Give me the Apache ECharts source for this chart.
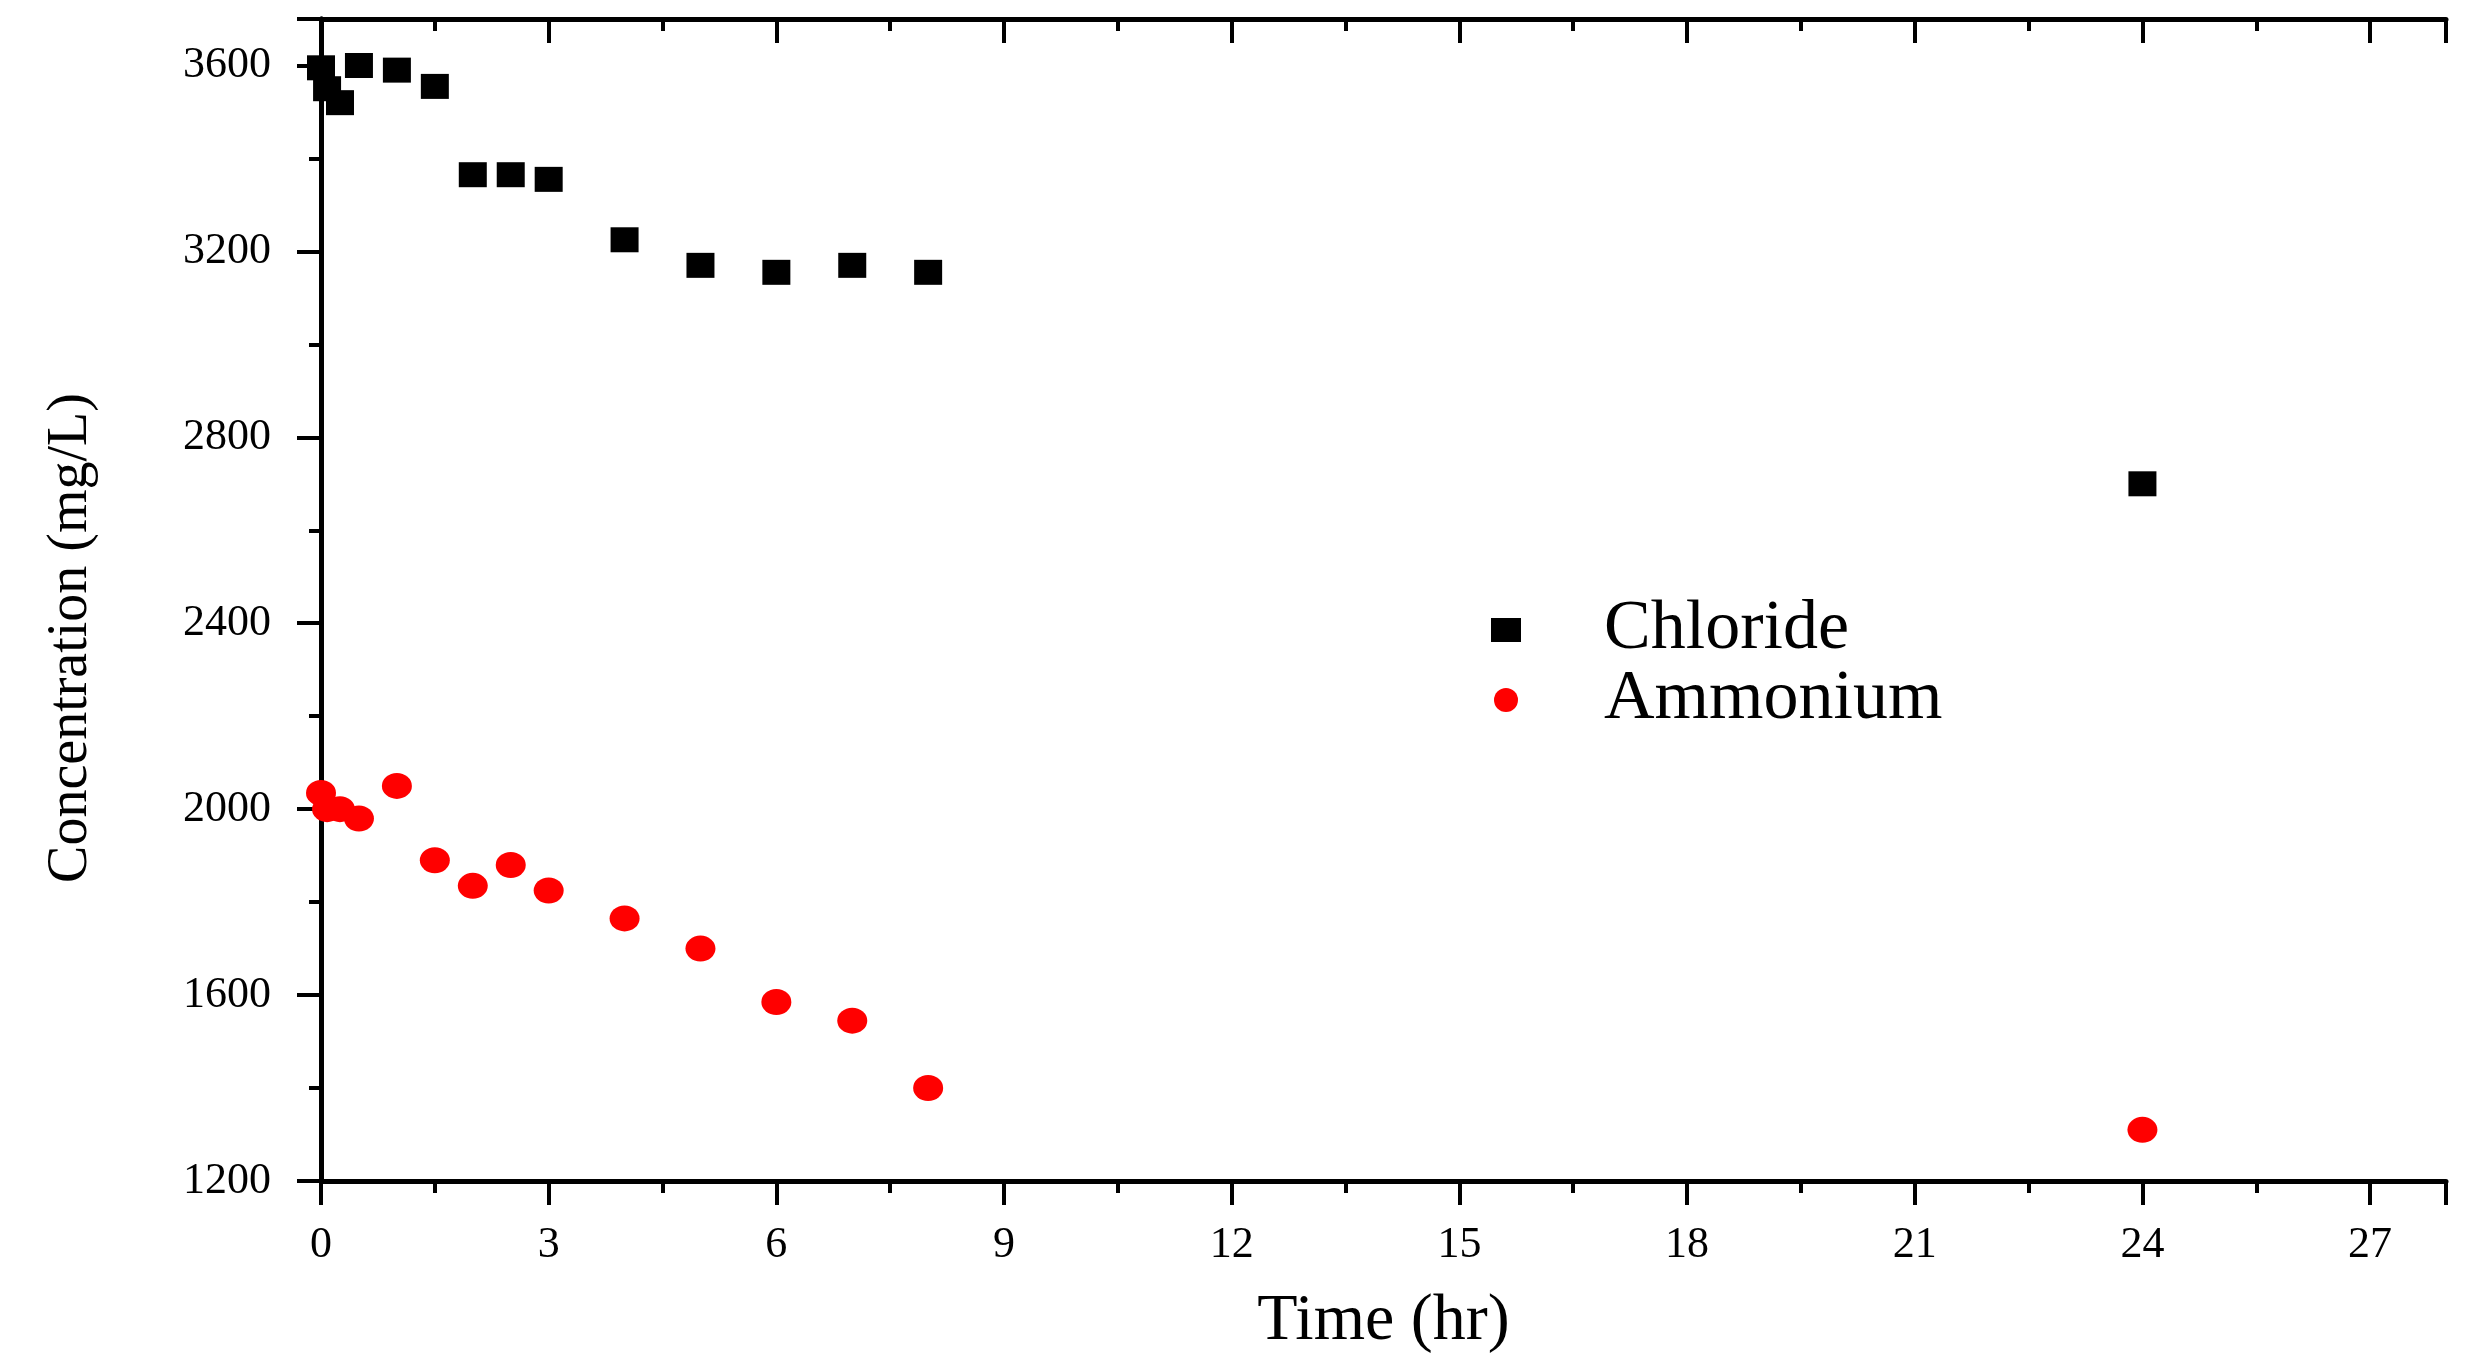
<!DOCTYPE html>
<html>
<head>
<meta charset="utf-8">
<style>
  html, body { margin: 0; padding: 0; background: #fff; }
  #chart { width: 2470px; height: 1363px; }
</style>
<script src="https://cdn.jsdelivr.net/npm/echarts@6/dist/echarts.min.js"></script>
</head>
<body>
<div id="chart"></div>
<script>
// time (hr) and concentration (mg/L)
var chlorideTime = [0, 0.08, 0.25, 0.5, 1, 1.5, 2, 2.5, 3, 4, 5, 6, 7, 8, 24]
var chlorideConc = [3595, 3550, 3520, 3600, 3590, 3555, 3365, 3365, 3355, 3225, 3170, 3155, 3170, 3155, 2700]
var ammoniumTime = [0, 0.08, 0.25, 0.5, 1, 1.5, 2, 2.5, 3, 4, 5, 6, 7, 8, 24]
var ammoniumConc = [2035, 2000, 2000, 1980, 2050, 1890, 1835, 1880, 1825, 1765, 1700, 1585, 1545, 1400, 1310]

var font = "'Liberation Serif', 'Times New Roman', serif"

function pairs(xs, ys) {
  return xs.map(function (x, i) { return [x, ys[i]] })
}

var chart = echarts.init(document.getElementById('chart'))

// shared axis styling
var lineStyle = { color: '#000', width: 5 }
var tick = { show: true, length: 24, lineStyle: { color: '#000', width: 4 } }
var minor = { show: true, splitNumber: 2, length: 12, lineStyle: { color: '#000', width: 4 } }

chart.setOption({
  animation: false,
  backgroundColor: '#fff',
  grid: {
    left: 321,
    right: 24,
    top: 19,
    bottom: 182
  },
  legend: {
    orient: 'vertical',
    left: 1486,
    top: 590,
    itemWidth: 30,
    itemHeight: 24,
    itemGap: 0,
    textStyle: {
      fontFamily: font,
      fontSize: 70,
      color: '#000',
      padding: [0, 0, 0, 78]
    },
    data: ['Chloride', 'Ammonium']
  },
  xAxis: [{
    type: 'value',
    position: 'bottom',
    min: 0,
    max: 28,
    interval: 3,
    name: 'Time (hr)',
    nameLocation: 'middle',
    nameGap: 108,
    nameTextStyle: { fontFamily: font, fontSize: 66, color: '#000' },
    axisLine: { show: true, onZero: false, lineStyle: lineStyle },
    axisTick: tick,
    minorTick: minor,
    splitLine: { show: false },
    axisLabel: {
      margin: 42,
      fontFamily: font,
      fontSize: 44,
      color: '#000',
      showMaxLabel: false
    }
  }, {
    type: 'value',
    position: 'top',
    min: 0,
    max: 28,
    interval: 3,
    axisLine: { show: true, lineStyle: lineStyle },
    axisTick: { show: true, inside: true, length: 24, lineStyle: { color: '#000', width: 4 } },
    minorTick: { show: true, splitNumber: 2, length: 12, lineStyle: { color: '#000', width: 4 } },
    splitLine: { show: false },
    axisLabel: { show: false }
  }],
  yAxis: [{
    type: 'value',
    position: 'left',
    min: 1200,
    max: 3700,
    interval: 400,
    name: 'Concentration (mg/L)',
    nameLocation: 'middle',
    nameGap: 222,
    nameRotate: 90,
    nameTextStyle: { fontFamily: font, fontSize: 56, color: '#000', padding: [0, 76, 0, 0] },
    axisLine: { show: true, onZero: false, lineStyle: lineStyle },
    axisTick: tick,
    minorTick: minor,
    splitLine: { show: false },
    axisLabel: {
      margin: 50,
      fontFamily: font,
      fontSize: 44,
      color: '#000',
      showMaxLabel: false,
      formatter: function (v) { return String(v) }
    }
  }, {
    type: 'value',
    position: 'right',
    min: 1200,
    max: 3700,
    interval: 400,
    axisLine: { show: true, lineStyle: lineStyle },
    axisTick: { show: true, inside: true, length: 24, lineStyle: { color: '#000', width: 4 } },
    minorTick: { show: true, splitNumber: 2, length: 12, lineStyle: { color: '#000', width: 4 } },
    splitLine: { show: false },
    axisLabel: { show: false }
  }],
  series: [{
    name: 'Chloride',
    type: 'scatter',
    symbol: 'rect',
    symbolSize: [28, 25],
    itemStyle: { color: '#000', opacity: 1 },
    data: pairs(chlorideTime, chlorideConc)
  }, {
    name: 'Ammonium',
    type: 'scatter',
    symbol: 'circle',
    symbolSize: [30, 26],
    itemStyle: { color: '#ff0000', opacity: 1 },
    data: pairs(ammoniumTime, ammoniumConc)
  }]
})
</script>
</body>
</html>
